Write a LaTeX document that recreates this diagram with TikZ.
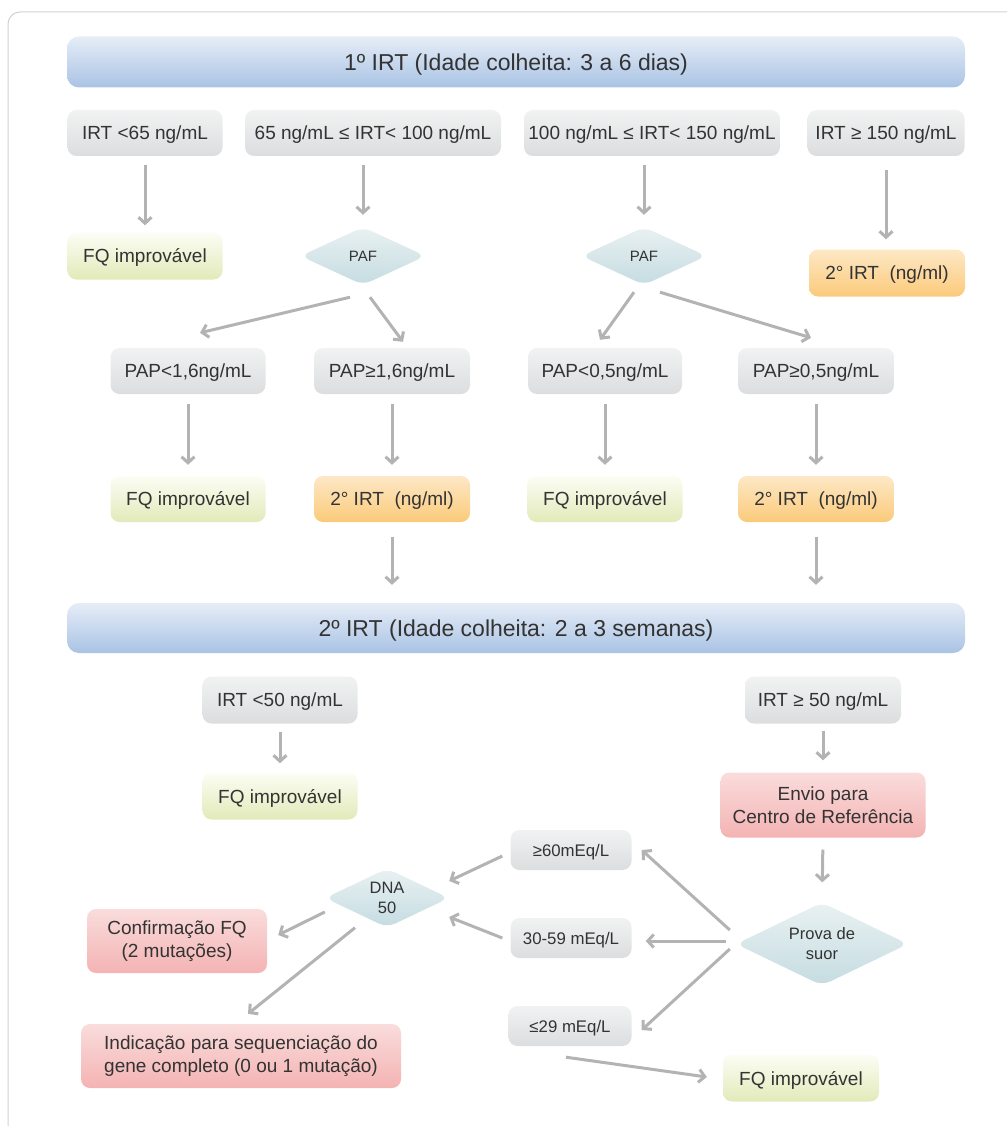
\documentclass[tikz,border=0pt]{standalone}
\usepackage{fontspec}
\setmainfont{Liberation Sans}
\usepackage{tikz}
\usetikzlibrary{shapes.geometric, arrows.meta}
\usepackage{xcolor}

\definecolor{txt}{HTML}{333333}
\definecolor{arrgray}{HTML}{B3B3B3}
\definecolor{frame}{HTML}{D2D2D2}
\definecolor{bartop}{HTML}{E6EDF7}
\definecolor{barbot}{HTML}{A9C3E4}
\definecolor{graytop}{HTML}{F1F2F2}
\definecolor{graybot}{HTML}{DCDDDF}
\definecolor{greentop}{HTML}{FCFDF5}
\definecolor{greenbot}{HTML}{E2EAB9}
\definecolor{orangetop}{HTML}{FDE8C6}
\definecolor{orangemid}{HTML}{FEF3E2}
\definecolor{orangebot}{HTML}{FBCA7A}
\definecolor{pinktop}{HTML}{FADCDC}
\definecolor{pinkmid}{HTML}{FDEFEF}
\definecolor{pinkbot}{HTML}{F4B3B3}
\definecolor{diatop}{HTML}{E9F1F2}
\definecolor{diabot}{HTML}{C5DCE1}

\tikzset{
    box/.style={rounded corners=9pt, minimum height=46pt, inner sep=0pt, align=center,
        text=txt, font=\fontsize{19}{23}\selectfont},
    graybox/.style={box, text depth=0pt, top color=graytop, bottom color=graybot},
    greenbox/.style={box, text depth=0pt, top color=greentop, bottom color=greenbot},
    orangebox/.style={box, text depth=0pt, top color=orangetop, middle color=orangemid, bottom color=orangebot},
    pinkbox/.style={box, top color=pinktop, middle color=pinkmid, bottom color=pinkbot},
    smallbox/.style={graybox, minimum height=40pt, font=\fontsize{16.8}{20}\selectfont},
    titlebar/.style={rounded corners=12pt, minimum width=898pt, minimum height=51pt, text depth=0pt,
        top color=bartop, bottom color=barbot, text=txt, font=\fontsize{23}{27}\selectfont},
    decision/.style={diamond, aspect=2.1, inner sep=0pt, rounded corners=9pt, align=center,
        top color=diatop, bottom color=diabot, text=txt, font=\fontsize{16.5}{20}\selectfont},
    arr/.style={draw=arrgray, line width=3pt, -{Straight Barb[length=6pt, width=13pt]}}
}

\begin{document}
\begin{tikzpicture}[x=1pt, y=-1pt]
        \useasboundingbox (0,0) rectangle (1007,1126);
        % Frame
        \draw[frame, line width=1pt, rounded corners=12pt] (8,1126) -- (8,12) -- (1007,12);

        % First collection
        \node[titlebar] (bar1) at (516,62) {1º IRT (Idade colheita: 3 a 6 dias)};
        \node[graybox, minimum width=155pt] (irtA) at (145,133) {IRT <65 ng/mL};
        \node[graybox, minimum width=256pt] (irtB) at (373,133) {65 ng/mL ≤ IRT< 100 ng/mL};
        \node[graybox, minimum width=256pt] (irtC) at (652,133) {100 ng/mL ≤ IRT< 150 ng/mL};
        \node[graybox, minimum width=157pt] (irtD) at (886,133) {IRT ≥ 150 ng/mL};

        \node[greenbox, minimum width=155pt, minimum height=47pt] (fqA) at (145,256) {FQ improvável};
        \node[decision, minimum width=125pt, minimum height=58pt, font=\fontsize{15}{18}\selectfont] (pafA) at (363,256) {PAF};
        \node[decision, minimum width=125pt, minimum height=58pt, font=\fontsize{15}{18}\selectfont] (pafB) at (644,256) {PAF};
        \node[orangebox, minimum width=156pt, minimum height=47pt] (irt2A) at (887,273) {2° IRT\ \ (ng/ml)};

        \draw[arr, shorten <=9pt, shorten >=7pt] (irtA.south) -- (fqA.north);
        \draw[arr, shorten <=9pt, shorten >=12pt] (irtB.south -| pafA.north) -- (pafA.north);
        \draw[arr, shorten <=9pt, shorten >=12pt] (irtC.south -| pafB.north) -- (pafB.north);
        \draw[arr, shorten <=14pt, shorten >=10pt] (irtD.south) -- (irtD.south |- irt2A.north);

        % PAP
        \node[graybox, minimum width=155pt] (papA) at (188,371) {PAP<1,6ng/mL};
        \node[graybox, minimum width=156pt] (papB) at (392,371) {PAP≥1,6ng/mL};
        \node[graybox, minimum width=154pt] (papC) at (605,371) {PAP<0,5ng/mL};
        \node[graybox, minimum width=156pt] (papD) at (816,371) {PAP≥0,5ng/mL};

        \draw[arr] ([xshift=-13pt, yshift=-12pt]pafA.south) -- ([xshift=12pt, yshift=15pt]papA.north);
        \draw[arr] ([xshift=7pt, yshift=-12pt]pafA.south) -- ([xshift=11pt, yshift=6pt]papB.north);
        \draw[arr] ([xshift=-10pt, yshift=-7pt]pafB.south) -- ([xshift=-5pt, yshift=8pt]papC.north);
        \draw[arr] ([xshift=16pt, yshift=-7pt]pafB.south) -- ([xshift=-5pt, yshift=10pt]papD.north);

        \node[greenbox, minimum width=155pt] (fqB) at (188,499) {FQ improvável};
        \node[orangebox, minimum width=156pt] (irt2B) at (392,499) {2° IRT\ \ (ng/ml)};
        \node[greenbox, minimum width=155pt] (fqC) at (605,499) {FQ improvável};
        \node[orangebox, minimum width=156pt] (irt2C) at (816,499) {2° IRT\ \ (ng/ml)};

        \foreach \a/\b in {papA/fqB, papB/irt2B, papC/fqC, papD/irt2C}
            \draw[arr, shorten <=10pt, shorten >=11pt] (\a.south) -- (\b.north);

        % Second collection
        \node[titlebar, minimum height=50pt] (bar2) at (516,628) {2º IRT (Idade colheita: 2 a 3 semanas)};
        \draw[arr, shorten <=15pt, shorten >=18pt] (irt2B.south) -- (irt2B.south |- bar2.north);
        \draw[arr, shorten <=15pt, shorten >=18pt] (irt2C.south) -- (irt2C.south |- bar2.north);

        \node[graybox, minimum width=155pt, minimum height=47pt] (lowA) at (280,700) {IRT <50 ng/mL};
        \node[graybox, minimum width=156pt, minimum height=47pt] (lowB) at (823,700) {IRT ≥ 50 ng/mL};
        \node[greenbox, minimum width=155pt, minimum height=47pt] (fqD) at (280,796) {FQ improvável};
        \node[pinkbox, minimum width=205pt, minimum height=65pt] (envio) at (823,805) {Envio para\\Centro de Referência};

        \draw[arr, shorten <=8pt, shorten >=9pt] (lowA.south) -- (fqD.north);
        \draw[arr, shorten <=7pt, shorten >=12pt] (lowB.south) -- (envio.north);

        % Sweat test
        \node[decision, minimum width=172pt, minimum height=83pt] (suor) at (822,944) {Prova de\\suor};
        \draw[arr, shorten <=12pt, shorten >=20pt] (envio.south) -- (suor.north);

        \node[smallbox, minimum width=121pt] (sA) at (571,850) {≥60mEq/L};
        \node[smallbox, minimum width=121pt] (sB) at (571,938) {30-59 mEq/L};
        \node[smallbox, minimum width=123pt] (sC) at (570,1026) {≤29 mEq/L};
        \node[greenbox, minimum width=156pt, minimum height=47pt] (fqE) at (801,1078) {FQ improvável};

        \draw[arr] ([xshift=-6pt, yshift=14pt]suor.west) -- ([xshift=10pt]sA.east);
        \draw[arr] ([xshift=-10pt, yshift=3pt]suor.west) -- ([xshift=14pt, yshift=-3pt]sB.east);
        \draw[arr] ([xshift=-6pt, yshift=-5pt]suor.west) -- ([xshift=10pt, yshift=-4pt]sC.east);
        \draw[arr] ([xshift=-4pt, yshift=-11pt]sC.south) -- ([xshift=-16pt, yshift=1pt]fqE.west);

        % DNA
        \node[decision, minimum width=124pt, minimum height=59pt] (dna) at (387,898) {DNA\\50};
        \node[pinkbox, minimum width=180pt, minimum height=64pt] (conf) at (177,941) {Confirmação FQ\\(2 mutações)};
        \node[pinkbox, minimum width=320pt, minimum height=64pt] (ind) at (241,1056) {Indicação para sequenciação do\\gene completo (0 ou 1 mutação)};

        \draw[arr] ([xshift=-8pt, yshift=-6pt]sA.west) -- ([yshift=17pt]dna.east);
        \draw[arr] ([xshift=-8pt]sB.west) -- ([yshift=-19pt]dna.east);
        \draw[arr] ([yshift=-14pt]dna.west) -- ([xshift=11pt, yshift=6pt]conf.east);
        \draw[arr] ([xshift=-32pt]dna.south) -- ([xshift=7pt, yshift=10pt]ind.north);
\end{tikzpicture}
\end{document}
